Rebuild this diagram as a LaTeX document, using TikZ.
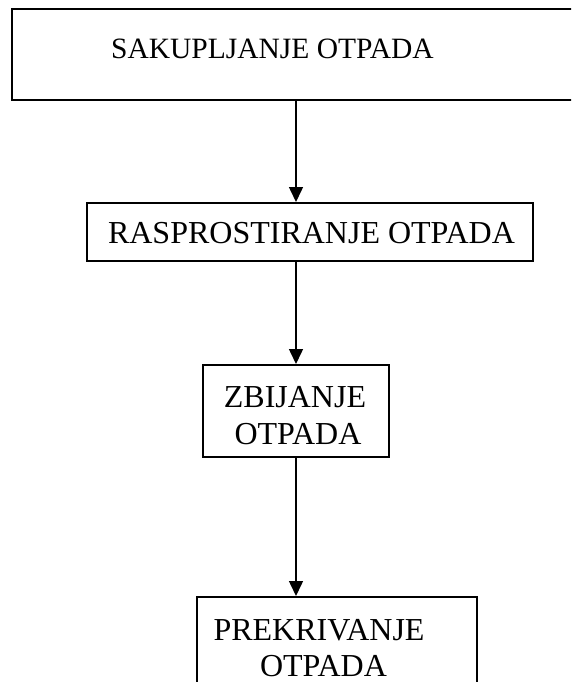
\documentclass[tikz,border=0pt]{standalone}
\usepackage{fontspec}
\setmainfont{Liberation Serif}
\usetikzlibrary{arrows.meta,calc}
\begin{document}
\begin{tikzpicture}[x=1pt,y=-1pt,
  box/.style={draw=black,line width=2pt,rectangle,inner sep=0pt,fill=none},
  lbl/.style={anchor=base,inner sep=0pt,font=\fontsize{32}{38}\selectfont},
  arr/.style={draw=black,line width=1.5pt,-{Triangle[length=15pt,width=14pt]}}]
\useasboundingbox (0,0) rectangle (571,682);
\clip (0,0) rectangle (571,682);
\fill[white] (0,0) rectangle (571,682);
% boxes
\node[box,minimum width=588pt,minimum height=91pt] (b1) at (306,54.5) {};
\node[box,minimum width=446pt,minimum height=58pt] (b2) at (310,232) {};
\node[box,minimum width=186pt,minimum height=92pt] (b3) at (296,411) {};
\node[box,minimum width=280pt,minimum height=140pt] (b4) at (337,667) {};
% labels
\node[lbl,font=\fontsize{29.5}{35}\selectfont] (t1) at (272.5,59) {SAKUPLJANJE OTPADA};
\node[lbl] (t2) at (311.5,243) {RASPROSTIRANJE OTPADA};
\node[lbl] (t3a) at (295,407) {ZBIJANJE};
\node[lbl] (t3b) at (298,444) {OTPADA};
\node[lbl] (t4a) at (319,640) {PREKRIVANJE};
\node[lbl] (t4b) at (323.5,676.5) {OTPADA};
% arrows
\draw[arr] (b1.south -| b3.north) -- (b2.north -| b3.north);
\draw[arr] (b2.south -| b3.north) -- (b3.north);
\draw[arr] (b3.south) -- (b4.north -| b3.south);
\end{tikzpicture}
\end{document}
